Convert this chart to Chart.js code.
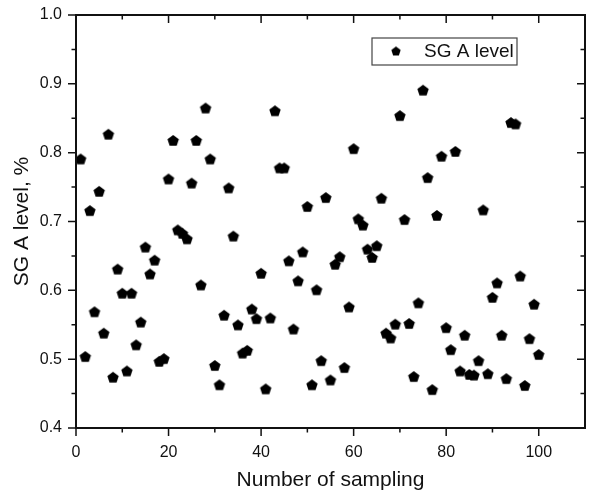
<!DOCTYPE html>
<html>
<head>
<meta charset="utf-8">
<title>SG A level</title>
<script src="https://cdn.jsdelivr.net/npm/chart.js@4/dist/chart.umd.min.js"></script>
<style>
  html, body { margin: 0; padding: 0; background: #fff; }
  canvas { display: block; }
</style>
</head>
<body>
<canvas id="chart" width="590" height="497"></canvas>
<script>
// sample numbers (x) and SG A level readings (y)
const sampleNumbers = [
  1, 2, 3, 4, 5, 6, 7, 8, 9, 10,
  11, 12, 13, 14, 15, 16, 17, 18, 19, 20,
  21, 22, 23, 24, 25, 26, 27, 28, 29, 30,
  31, 32, 33, 34, 35, 36, 37, 38, 39, 40,
  41, 42, 43, 44, 45, 46, 47, 48, 49, 50,
  51, 52, 53, 54, 55, 56, 57, 58, 59, 60,
  61, 62, 63, 64, 65, 66, 67, 68, 69, 70,
  71, 72, 73, 74, 75, 76, 77, 78, 79, 80,
  81, 82, 83, 84, 85, 86, 87, 88, 89, 90,
  91, 92, 93, 94, 95, 96, 97, 98, 99, 100
];
const sgLevel = [
  0.790, 0.503, 0.715, 0.568, 0.743, 0.537, 0.826, 0.473, 0.630, 0.595,
  0.482, 0.595, 0.520, 0.553, 0.662, 0.623, 0.643, 0.496, 0.500, 0.761,
  0.817, 0.687, 0.682, 0.674, 0.755, 0.817, 0.607, 0.864, 0.790, 0.490,
  0.462, 0.563, 0.748, 0.678, 0.549, 0.508, 0.512, 0.572, 0.558, 0.624,
  0.456, 0.559, 0.860, 0.777, 0.777, 0.642, 0.543, 0.613, 0.655, 0.721,
  0.462, 0.600, 0.497, 0.734, 0.469, 0.637, 0.648, 0.487, 0.575, 0.805,
  0.703, 0.694, 0.659, 0.647, 0.664, 0.733, 0.537, 0.530, 0.550, 0.853,
  0.702, 0.551, 0.474, 0.581, 0.890, 0.763, 0.455, 0.708, 0.794, 0.545,
  0.513, 0.801, 0.482, 0.534, 0.477, 0.476, 0.497, 0.716, 0.478, 0.589,
  0.610, 0.534, 0.471, 0.843, 0.841, 0.620, 0.461, 0.529, 0.579, 0.506
];
const seriesLabel = "SG A level";
const xTitle = "Number of sampling";
const yTitle = "SG A level, %";

const FONT = '"Liberation Sans", Arial, sans-serif';

// pentagon marker, Chart.js has no built-in one
function pentagon(r) {
  const size = Math.ceil(r * 2) + 2;
  const c = document.createElement("canvas");
  c.width = size;
  c.height = size;
  const g = c.getContext("2d");
  g.fillStyle = "#000";
  g.beginPath();
  for (let i = 0; i < 5; i++) {
    const a = -Math.PI / 2 + i * 2 * Math.PI / 5;
    const px = size / 2 + r * Math.cos(a);
    const py = size / 2 + r * Math.sin(a);
    if (i === 0) g.moveTo(px, py); else g.lineTo(px, py);
  }
  g.closePath();
  g.fill();
  return c;
}
const marker = pentagon(6);
const legendMarker = pentagon(4.9);

const isMajorY = (v) => Math.abs(v * 10 - Math.round(v * 10)) < 1e-6;

// frame with Origin-style ticks: outside on bottom/left, inside on top/right
const frameTicks = {
  id: "frameTicks",
  afterDraw(chart) {
    const { ctx, chartArea: a, scales: { x, y } } = chart;
    ctx.save();
    ctx.strokeStyle = "#111";
    ctx.lineWidth = 1.5;
    ctx.beginPath();
    x.ticks.forEach((t) => {
      if (t.value > 100) return;
      const px = x.getPixelForValue(t.value);
      const len = t.value % 20 === 0 ? 8 : 4.5;
      ctx.moveTo(px, a.bottom);
      ctx.lineTo(px, a.bottom + len);
      ctx.moveTo(px, a.top);
      ctx.lineTo(px, a.top + len);
    });
    y.ticks.forEach((t) => {
      const py = y.getPixelForValue(t.value);
      const len = isMajorY(t.value) ? 8 : 4.5;
      ctx.moveTo(a.left - len, py);
      ctx.lineTo(a.left, py);
      ctx.moveTo(a.right - len, py);
      ctx.lineTo(a.right, py);
    });
    ctx.stroke();
    ctx.lineWidth = 2;
    ctx.strokeRect(a.left, a.top, a.right - a.left, a.bottom - a.top);

    // legend box
    const lx = a.left + 296, ly = a.top + 23;
    ctx.lineWidth = 1.2;
    ctx.strokeStyle = "#444";
    ctx.strokeRect(lx, ly, 145, 27);
    ctx.drawImage(legendMarker, lx + 24 - legendMarker.width / 2, ly + 13.5 - legendMarker.height / 2);
    ctx.fillStyle = "#111";
    ctx.font = "19px " + FONT;
    ctx.textBaseline = "middle";
    ctx.textAlign = "left";
    ctx.fillText(seriesLabel, lx + 52, ly + 14);
    ctx.restore();
  }
};

new Chart(document.getElementById("chart"), {
  type: "scatter",
  data: {
    datasets: [
      {
        label: seriesLabel,
        data: sampleNumbers.map((n, i) => ({ x: n, y: sgLevel[i] })),
        pointStyle: marker,
        backgroundColor: "#000",
        borderColor: "#000",
      },
    ],
  },
  options: {
    responsive: false,
    animation: false,
    devicePixelRatio: 1,
    layout: { padding: { top: 15, right: 2, left: 0, bottom: 0 } },
    plugins: {
      legend: { display: false },
      tooltip: { enabled: false },
    },
    scales: {
      x: {
        type: "linear",
        min: 0,
        max: 110,
        grid: { display: false, drawTicks: false },
        border: { display: false },
        ticks: {
          stepSize: 10,
          autoSkip: false,
          maxRotation: 0,
          padding: 15,
          color: "#111",
          font: { family: FONT, size: 16 },
          callback: (v) => (v % 20 === 0 && v <= 100 ? String(v) : ""),
        },
        title: {
          display: true,
          text: xTitle,
          color: "#111",
          font: { family: FONT, size: 21 },
          padding: { top: 0, bottom: 4 },
        },
        afterFit: (s) => {
          s.height = 69;
          s.paddingLeft = 0;
          s.paddingRight = 0;
        },
      },
      y: {
        min: 0.4,
        max: 1.0,
        grid: { display: false, drawTicks: false },
        border: { display: false },
        ticks: {
          stepSize: 0.05,
          autoSkip: false,
          padding: 14,
          color: "#111",
          font: { family: FONT, size: 16 },
          callback: (v) => (isMajorY(v) ? v.toFixed(1) : ""),
        },
        title: {
          display: true,
          text: yTitle,
          color: "#111",
          font: { family: FONT, size: 21 },
          padding: { top: 10, bottom: 0 },
        },
        afterFit: (s) => {
          s.width = 76;
          s.paddingTop = 0;
          s.paddingBottom = 0;
        },
      },
    },
  },
  plugins: [frameTicks],
});
</script>
</body>
</html>
